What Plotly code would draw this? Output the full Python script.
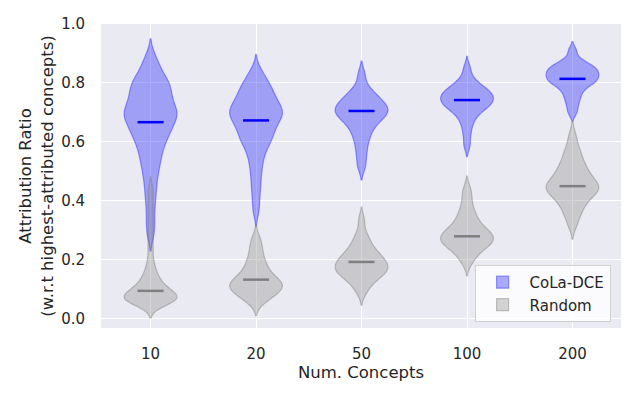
import plotly.graph_objects as go

categories = ["10", "20", "50", "100", "200"]

# Samples (attribution ratio values)
cola_10 = [0.29, 0.34, 0.39, 0.43, 0.465, 0.495, 0.52, 0.54, 0.56, 0.58, 0.59, 0.61, 0.62,
           0.63, 0.64, 0.65, 0.66, 0.67, 0.68, 0.685, 0.69, 0.70, 0.705, 0.71, 0.72, 0.73,
           0.74, 0.75, 0.76, 0.77, 0.78, 0.79, 0.80, 0.81, 0.82, 0.84, 0.86, 0.89]
cola_20 = [0.37, 0.42, 0.46, 0.495, 0.525, 0.55, 0.57, 0.59, 0.60, 0.61, 0.62, 0.63, 0.64,
           0.65, 0.66, 0.67, 0.675, 0.68, 0.69, 0.695, 0.70, 0.705, 0.71, 0.72, 0.725, 0.73,
           0.74, 0.75, 0.76, 0.77, 0.78, 0.79, 0.80, 0.82, 0.84]
cola_50 = [0.515, 0.55, 0.58, 0.605, 0.625, 0.64, 0.655, 0.665, 0.675, 0.68, 0.69, 0.695,
           0.70, 0.705, 0.71, 0.715, 0.72, 0.73, 0.735, 0.74, 0.75, 0.76, 0.77, 0.79, 0.83]
cola_100 = [0.59, 0.63, 0.66, 0.68, 0.695, 0.705, 0.715, 0.72, 0.725, 0.73, 0.735, 0.74,
            0.745, 0.75, 0.755, 0.76, 0.765, 0.77, 0.775, 0.78, 0.79, 0.80, 0.815, 0.85]
cola_200 = [0.70, 0.725, 0.745, 0.76, 0.775, 0.785, 0.795, 0.80, 0.805, 0.81, 0.815, 0.82,
            0.825, 0.83, 0.835, 0.84, 0.845, 0.85, 0.855, 0.86, 0.87, 0.88, 0.91]

random_10 = [0.045, 0.05, 0.055, 0.06, 0.062, 0.065, 0.068, 0.07, 0.072, 0.075, 0.078, 0.08,
             0.085, 0.09, 0.095, 0.10, 0.105, 0.11, 0.12, 0.13, 0.14, 0.155, 0.17, 0.20,
             0.24, 0.28, 0.32, 0.36, 0.40, 0.44]
random_20 = [0.055, 0.065, 0.075, 0.082, 0.088, 0.094, 0.10, 0.104, 0.108, 0.112, 0.116,
             0.12, 0.125, 0.13, 0.135, 0.14, 0.15, 0.16, 0.17, 0.18, 0.195, 0.21, 0.23,
             0.25, 0.275]
random_50 = [0.09, 0.11, 0.125, 0.135, 0.145, 0.15, 0.155, 0.16, 0.165, 0.17, 0.175, 0.18,
             0.185, 0.19, 0.195, 0.20, 0.21, 0.215, 0.22, 0.23, 0.24, 0.255, 0.27, 0.29, 0.335]
random_100 = [0.19, 0.21, 0.225, 0.235, 0.245, 0.25, 0.255, 0.26, 0.265, 0.27, 0.275, 0.28,
              0.285, 0.29, 0.295, 0.30, 0.31, 0.32, 0.33, 0.345, 0.36, 0.38, 0.41, 0.44]
random_200 = [0.32, 0.35, 0.37, 0.385, 0.40, 0.41, 0.42, 0.43, 0.435, 0.44, 0.445, 0.45,
              0.455, 0.46, 0.47, 0.48, 0.49, 0.50, 0.51, 0.525, 0.54, 0.56, 0.58, 0.62]

# Mean markers
cola_means = [0.667, 0.673, 0.705, 0.742, 0.814]
random_means = [0.095, 0.133, 0.193, 0.280, 0.450]

cola_samples = [cola_10, cola_20, cola_50, cola_100, cola_200]
random_samples = [random_10, random_20, random_50, random_100, random_200]

# KDE bandwidths (style)
cola_bw = [0.030, 0.028, 0.022, 0.020, 0.015]
random_bw = [0.021, 0.022, 0.022, 0.022, 0.025]

TEXT = "#262626"
FONT = "DejaVu Sans, sans-serif"

fig = go.Figure()

series = [
    ("CoLa-DCE", cola_samples, cola_bw, "rgba(0,0,255,0.32)", "rgba(40,40,255,0.45)"),
    ("Random", random_samples, random_bw, "rgba(128,128,128,0.32)", "rgba(128,128,128,0.45)"),
]
for name, samples, bws, fill, edge in series:
    for i, (cat, vals, bw) in enumerate(zip(categories, samples, bws)):
        fig.add_trace(go.Violin(
            x=[cat] * len(vals), y=vals, name=name, legendgroup=name,
            showlegend=(i == 0), points=False, spanmode="soft", bandwidth=bw,
            scalemode="width", width=0.5, fillcolor=fill,
            line=dict(color=edge, width=1.2), box_visible=False, meanline_visible=False,
            hoverinfo="skip",
        ))

for means, color in [(cola_means, "#0000ff"), (random_means, "#808080")]:
    fig.add_trace(go.Scatter(
        x=categories, y=means, mode="markers", showlegend=False, hoverinfo="skip",
        marker=dict(symbol="line-ew", size=18.6, line=dict(color=color, width=2.5)),
    ))

# The page body adds an 8px offset, so the figure is 8px smaller and left/top margins shifted.
fig.update_layout(
    width=632, height=392,
    margin=dict(l=93, r=19, t=16, b=72, autoexpand=False),
    paper_bgcolor="white", plot_bgcolor="#eaeaf2",
    violinmode="overlay",
    font=dict(family=FONT, size=15, color=TEXT),
    legend=dict(x=0.98, xanchor="right", y=0.02, yanchor="bottom",
                bgcolor="rgba(255,255,255,0.8)", bordercolor="#d0d0d0", borderwidth=1,
                font=dict(size=15, color=TEXT), tracegroupgap=0, itemwidth=44),
    xaxis=dict(type="category", categoryorder="array", categoryarray=categories,
               range=[-0.47, 4.46], showgrid=True, gridcolor="white", gridwidth=1.3,
               zeroline=False, ticks="outside", ticklen=12, tickcolor="rgba(0,0,0,0)",
               tickfont=dict(size=15), showline=False, automargin=False,
               title=dict(text="Num. Concepts", font=dict(size=16.5), standoff=4)),
    yaxis=dict(range=[-0.031, 1.0], tickvals=[0, 0.2, 0.4, 0.6, 0.8, 1.0],
               ticktext=["0.0", "0.2", "0.4", "0.6", "0.8", "1.0"],
               showgrid=True, gridcolor="white", gridwidth=1.3, zeroline=False,
               ticks="outside", ticklen=12, tickcolor="rgba(0,0,0,0)",
               tickfont=dict(size=15), showline=False, automargin=False,
               title=dict(text="Attribution Ratio<br>(w.r.t highest-attributed concepts)",
                          font=dict(size=16.5), standoff=3)),
)

fig.write_html("out.html")
